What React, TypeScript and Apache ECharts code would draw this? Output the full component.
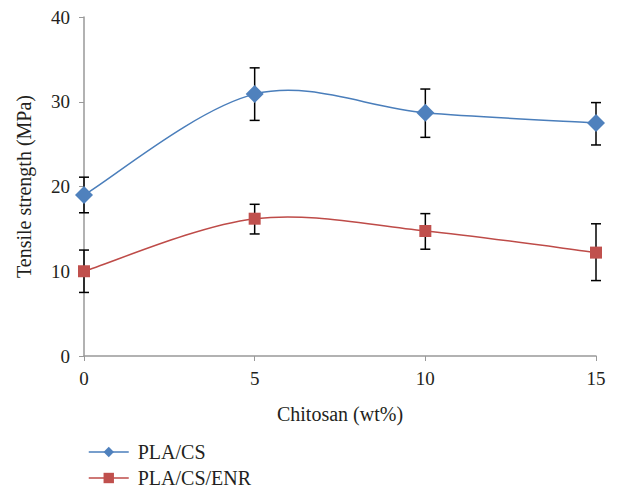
import React, { useEffect, useRef } from "react";
import * as echarts from "echarts";

const xValues = [0, 5, 10, 15];
const plaCs = [19.0, 30.9, 28.7, 27.5];
const plaCsLow = [16.9, 27.8, 25.8, 24.9];
const plaCsHigh = [21.1, 34.0, 31.5, 29.9];
const plaCsEnr = [10.0, 16.2, 14.75, 12.2];
const plaCsEnrLow = [7.5, 14.4, 12.6, 8.9];
const plaCsEnrHigh = [12.5, 17.9, 16.8, 15.6];

const FONT = "Liberation Serif";
const TEXT = "#231f20";
const BLUE_LINE = "#4a7ebb";
const BLUE = "#4f81bd";
const RED_LINE = "#be4b48";
const RED = "#c0504d";

function errorSeries(low: number[], high: number[]) {
  return {
    type: "custom",
    z: 1,
    silent: true,
    data: xValues.map((x, i) => [x, low[i], high[i]]),
    renderItem: (params: any, api: any) => {
      const x = api.value(0);
      const lo = api.coord([x, api.value(1)]);
      const hi = api.coord([x, api.value(2)]);
      const w = 5;
      const style = { stroke: "#000", lineWidth: 1.5 };
      return {
        type: "group",
        children: [
          { type: "line", shape: { x1: lo[0], y1: lo[1], x2: hi[0], y2: hi[1] }, style },
          { type: "line", shape: { x1: lo[0] - w, y1: lo[1], x2: lo[0] + w, y2: lo[1] }, style },
          { type: "line", shape: { x1: hi[0] - w, y1: hi[1], x2: hi[0] + w, y2: hi[1] }, style },
        ],
      };
    },
  };
}

// Excel-like smoothed curve (Catmull-Rom in pixel space), one bezier per segment
function curveSeries(values: number[], color: string) {
  return {
    type: "custom",
    z: 2,
    silent: true,
    data: xValues.slice(0, -1).map((x, i) => [x, values[i], i]),
    renderItem: (params: any, api: any) => {
      const i = api.value(2);
      const pts = xValues.map((x, k) => api.coord([x, values[k]]));
      const p0 = pts[Math.max(i - 1, 0)];
      const p1 = pts[i];
      const p2 = pts[i + 1];
      const p3 = pts[Math.min(i + 2, pts.length - 1)];
      const t = 1 / 6;
      const c1 = [p1[0] + (p2[0] - p0[0]) * t, p1[1] + (p2[1] - p0[1]) * t];
      const c2 = [p2[0] - (p3[0] - p1[0]) * t, p2[1] - (p3[1] - p1[1]) * t];
      return {
        type: "bezierCurve",
        shape: { x1: p1[0], y1: p1[1], cpx1: c1[0], cpy1: c1[1], cpx2: c2[0], cpy2: c2[1], x2: p2[0], y2: p2[1] },
        style: { stroke: color, lineWidth: 1.5, fill: "none" },
      };
    },
  };
}

function legendFor(name: string, color: string, top: number) {
  return {
    orient: "vertical",
    left: 88,
    top,
    padding: 0,
    itemWidth: 40,
    itemHeight: 13,
    textStyle: { fontFamily: FONT, fontSize: 20, lineHeight: 20, color: TEXT, padding: [0, 0, 0, 4] },
    data: [{ name, lineStyle: { opacity: 1, color, width: 1.5 } }],
  };
}

export default function App() {
  const ref = useRef<HTMLDivElement>(null);
  useEffect(() => {
    const chart = echarts.init(ref.current!, null, { renderer: "svg" });
    chart.setOption({
      animation: false,
      textStyle: { fontFamily: FONT },
      grid: { left: 84, right: 22, top: 17, bottom: 136 },
      legend: [legendFor("PLA/CS", BLUE_LINE, 442), legendFor("PLA/CS/ENR", RED_LINE, 468)],
      xAxis: {
        type: "value",
        min: 0,
        max: 15,
        interval: 5,
        name: "Chitosan (wt%)",
        nameLocation: "middle",
        nameGap: 48,
        nameTextStyle: { fontFamily: FONT, fontSize: 20, color: TEXT },
        axisLine: { lineStyle: { color: "#999", width: 1.5 } },
        axisTick: { show: true, length: 5, lineStyle: { color: "#999" } },
        axisLabel: { fontFamily: FONT, fontSize: 19, color: TEXT, margin: 13 },
        splitLine: { show: false },
      },
      yAxis: {
        type: "value",
        min: 0,
        max: 40,
        interval: 10,
        name: "Tensile strength (MPa)",
        nameLocation: "middle",
        nameGap: 50,
        nameTextStyle: { fontFamily: FONT, fontSize: 20, color: TEXT },
        axisLine: { show: true, lineStyle: { color: "#999", width: 1.5 } },
        axisTick: { show: true, length: 5, lineStyle: { color: "#999" } },
        axisLabel: { fontFamily: FONT, fontSize: 19, color: TEXT, margin: 14 },
        splitLine: { show: false },
      },
      series: [
        errorSeries(plaCsLow, plaCsHigh),
        errorSeries(plaCsEnrLow, plaCsEnrHigh),
        curveSeries(plaCs, BLUE_LINE),
        curveSeries(plaCsEnr, RED_LINE),
        {
          name: "PLA/CS",
          type: "line",
          z: 3,
          data: xValues.map((x, i) => [x, plaCs[i]]),
          symbol: "diamond",
          symbolSize: 18,
          lineStyle: { color: BLUE_LINE, width: 1.5, opacity: 0 },
          itemStyle: { color: BLUE },
        },
        {
          name: "PLA/CS/ENR",
          type: "line",
          z: 3,
          data: xValues.map((x, i) => [x, plaCsEnr[i]]),
          symbol: "rect",
          symbolSize: 12,
          lineStyle: { color: RED_LINE, width: 1.5, opacity: 0 },
          itemStyle: { color: RED },
        },
      ],
    });
    return () => chart.dispose();
  }, []);
  return (
    <div
      ref={ref}
      style={{ position: "fixed", left: 0, top: 0, width: 618, height: 492, background: "#fff" }}
    />
  );
}
